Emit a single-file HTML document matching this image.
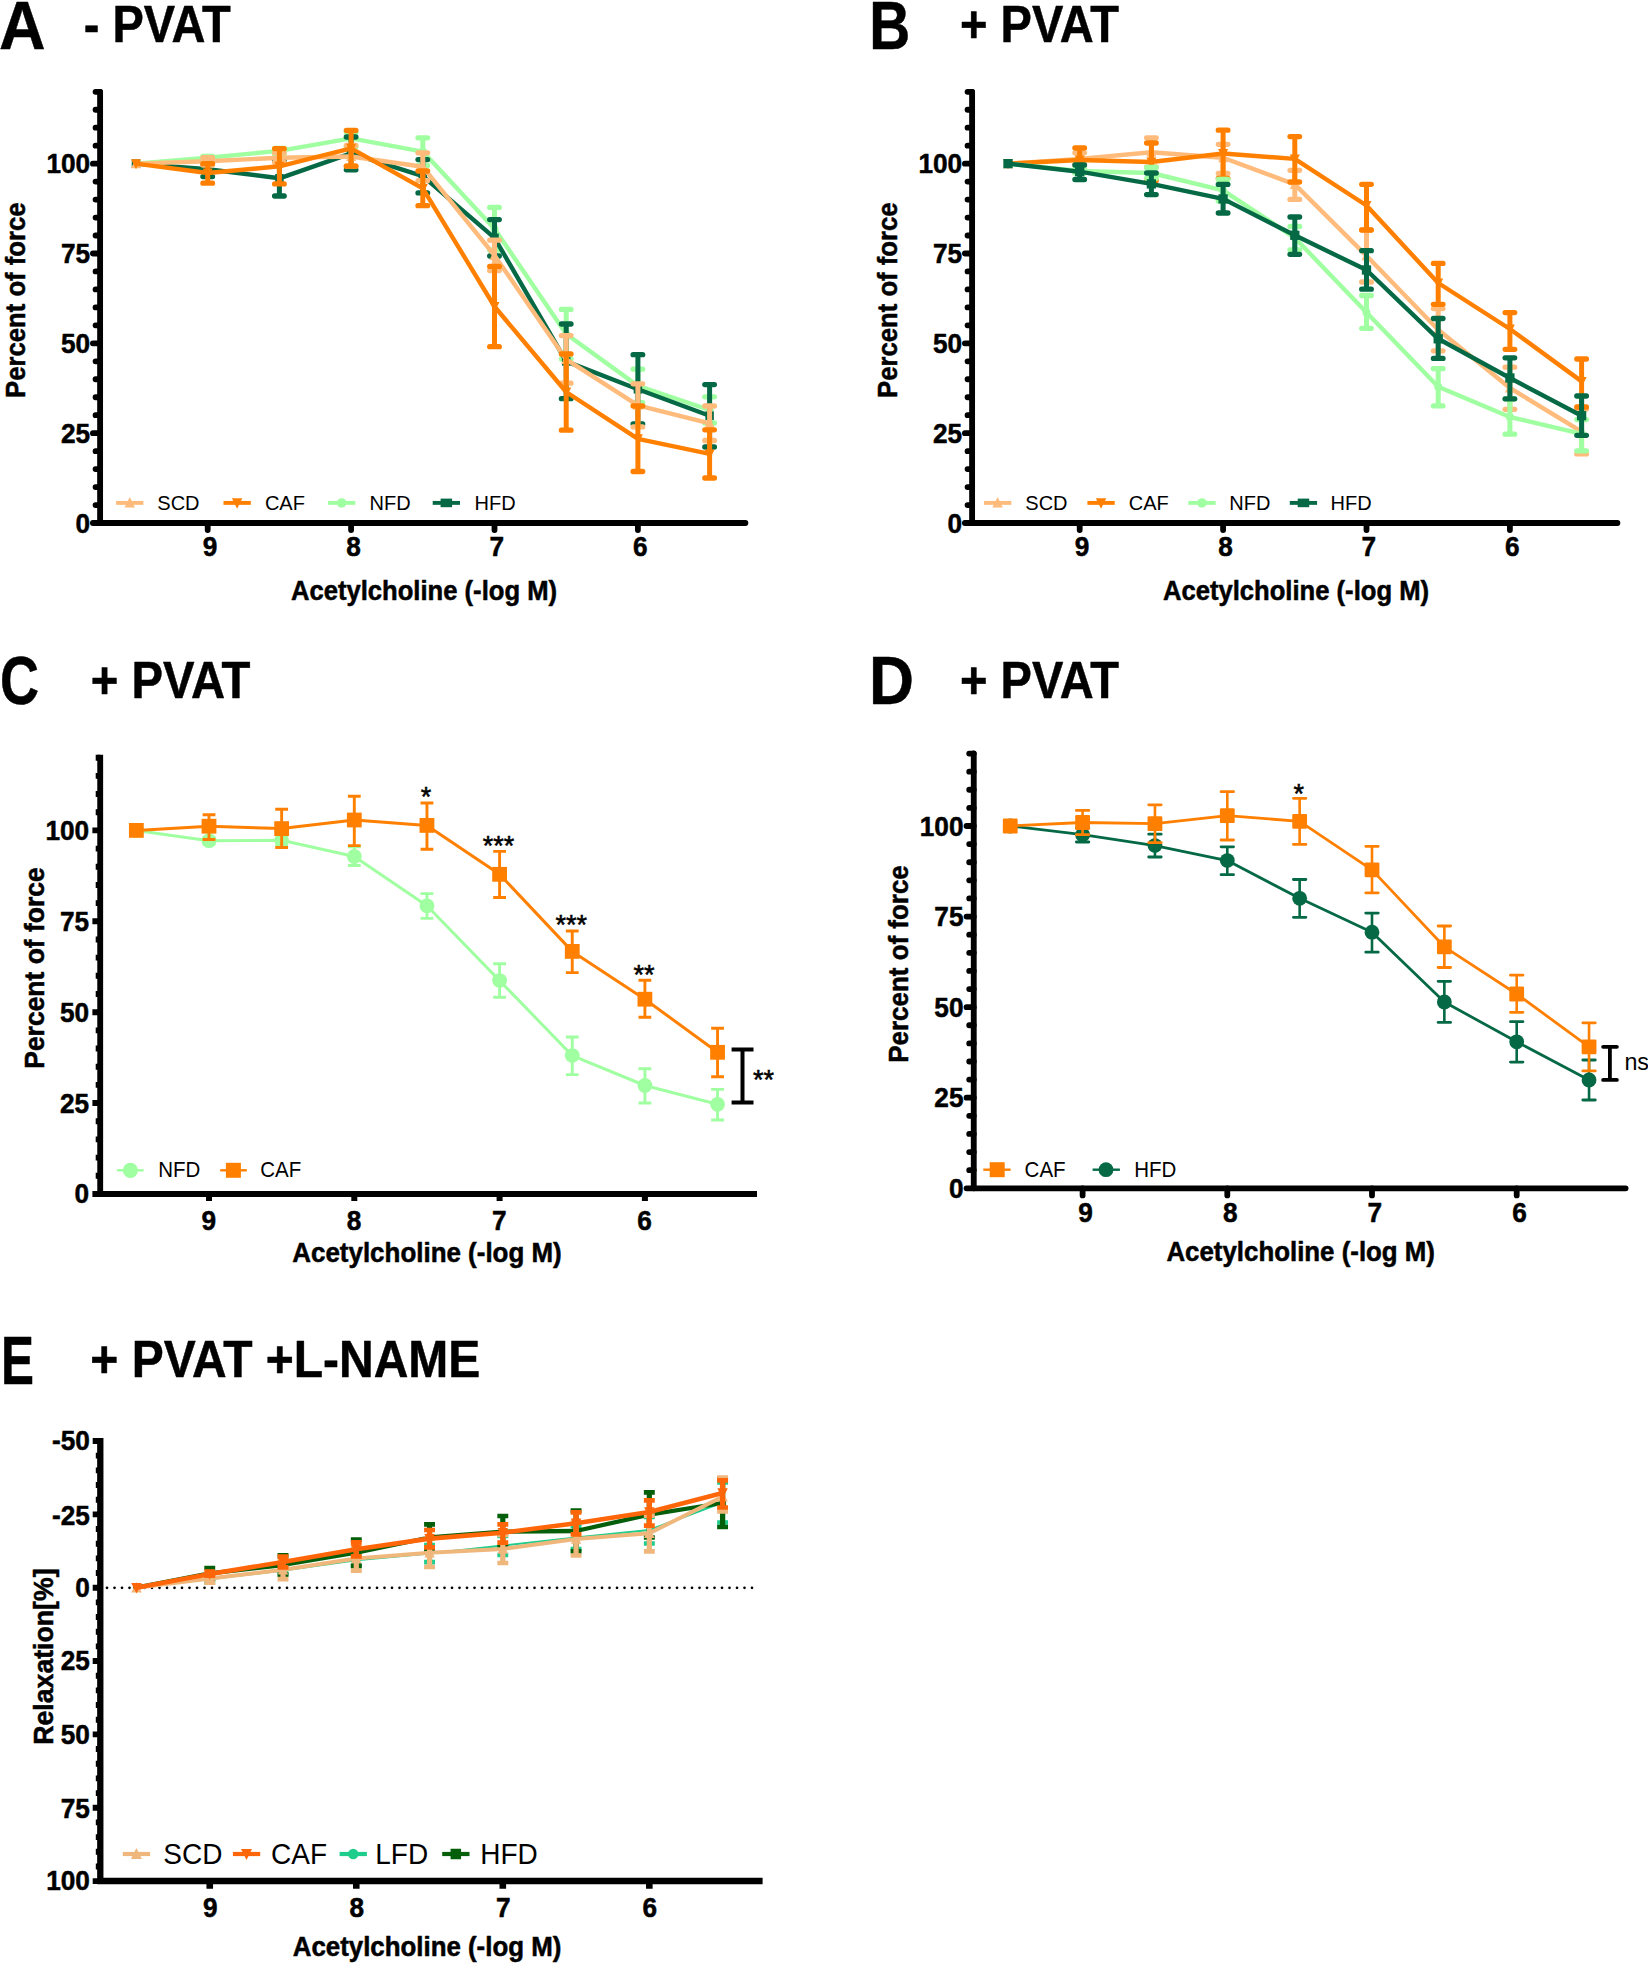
<!DOCTYPE html>
<html lang="en"><head><meta charset="utf-8"><title>Figure</title>
<style>html,body{margin:0;padding:0;background:#fff}body{width:1648px;height:1963px;overflow:hidden}svg{display:block}text{font-family:"Liberation Sans",sans-serif;fill:#000}text[font-weight=bold]{stroke:#000;stroke-width:.5px;stroke-linejoin:round}</style>
</head><body>
<svg width="1648" height="1963" viewBox="0 0 1648 1963">
<rect width="1648" height="1963" fill="#fff"/>
<g id="panelA">
<text transform="translate(-1 48.8) scale(1 1)" font-size="69.2" font-weight="bold" text-anchor="start" textLength="46.5" lengthAdjust="spacingAndGlyphs" stroke="#000" stroke-width="0.9" stroke-linejoin="round">A</text>
<text transform="translate(83.7 42.2) scale(1 1)" font-size="51.2" font-weight="bold" text-anchor="start" textLength="147" lengthAdjust="spacingAndGlyphs" stroke="#000" stroke-width="0.9" stroke-linejoin="round">- PVAT</text>
<path d="M100.1 91.9V523H745.4" fill="none" stroke="#000" stroke-width="5.85" stroke-linecap="round" stroke-linejoin="round"/>
<path d="M100.1 505.03H95.55M100.1 487.06H95.55M100.1 469.1H95.55M100.1 451.13H95.55M100.1 415.19H95.55M100.1 397.23H95.55M100.1 379.26H95.55M100.1 361.29H95.55M100.1 325.36H95.55M100.1 307.39H95.55M100.1 289.42H95.55M100.1 271.45H95.55M100.1 235.52H95.55M100.1 217.55H95.55M100.1 199.58H95.55M100.1 181.62H95.55M100.1 145.68H95.55M100.1 127.71H95.55M100.1 109.75H95.55M100.1 91.78H95.55" stroke="#000" stroke-width="5.8" stroke-linecap="round" fill="none"/>
<path d="M100.1 523H92.9M100.1 433.16H92.9M100.1 343.32H92.9M100.1 253.49H92.9M100.1 163.65H92.9M207.7 523V530.1M351.1 523V530.1M494.5 523V530.1M637.9 523V530.1" stroke="#000" stroke-width="5.8" stroke-linecap="round" fill="none"/>
<text transform="translate(90.2 532.5) scale(1 1.05)" font-size="26.2" font-weight="bold" text-anchor="end">0</text>
<text transform="translate(90.2 442.66) scale(1 1.05)" font-size="26.2" font-weight="bold" text-anchor="end">25</text>
<text transform="translate(90.2 352.82) scale(1 1.05)" font-size="26.2" font-weight="bold" text-anchor="end">50</text>
<text transform="translate(90.2 262.99) scale(1 1.05)" font-size="26.2" font-weight="bold" text-anchor="end">75</text>
<text transform="translate(90.2 173.15) scale(1 1.05)" font-size="26.2" font-weight="bold" text-anchor="end">100</text>
<text transform="translate(210.1 556) scale(1 1.05)" font-size="26.2" font-weight="bold" text-anchor="middle">9</text>
<text transform="translate(353.5 556) scale(1 1.05)" font-size="26.2" font-weight="bold" text-anchor="middle">8</text>
<text transform="translate(496.9 556) scale(1 1.05)" font-size="26.2" font-weight="bold" text-anchor="middle">7</text>
<text transform="translate(640.3 556) scale(1 1.05)" font-size="26.2" font-weight="bold" text-anchor="middle">6</text>
<text transform="translate(424 600) scale(1 1.05)" font-size="26" font-weight="bold" text-anchor="middle" textLength="266" lengthAdjust="spacingAndGlyphs">Acetylcholine (-log M)</text>
<text transform="translate(24.7 300.2) rotate(-90) scale(1 1.05)" font-size="26" font-weight="bold" text-anchor="middle" textLength="195.5" lengthAdjust="spacingAndGlyphs">Percent of force</text>
<path d="M207.7 156.3V159.1M279.4 148.3V154.5M351.1 132.2V146.7M422.8 137.8V165.4M494.5 207.4V250M566.2 309.4V359M637.9 369.2V402.6M709.6 396.8V423" fill="none" stroke="#A0FFA0" stroke-width="5"/>
<path d="M202.9 156.3H212.5M202.9 159.1H212.5M274.6 148.3H284.2M274.6 154.5H284.2M346.3 132.2H355.9M346.3 146.7H355.9M418 137.8H427.6M418 165.4H427.6M489.7 207.4H499.3M489.7 250H499.3M561.4 309.4H571M561.4 359H571M633.1 369.2H642.7M633.1 402.6H642.7M704.8 396.8H714.4M704.8 423H714.4" fill="none" stroke="#A0FFA0" stroke-width="5.3" stroke-linecap="round"/>
<polyline points="136,163.65 207.7,157.7 279.4,150.9 351.1,138.3 422.8,151.6 494.5,228.7 566.2,334 637.9,385.9 709.6,410" fill="none" stroke="#A0FFA0" stroke-width="4.4" stroke-linejoin="round" stroke-linecap="round"/>
<circle cx="136" cy="163.65" r="4" fill="#A0FFA0"/>
<circle cx="207.7" cy="157.7" r="4" fill="#A0FFA0"/>
<circle cx="279.4" cy="150.9" r="4" fill="#A0FFA0"/>
<circle cx="351.1" cy="138.3" r="4" fill="#A0FFA0"/>
<circle cx="422.8" cy="151.6" r="4" fill="#A0FFA0"/>
<circle cx="494.5" cy="228.7" r="4" fill="#A0FFA0"/>
<circle cx="566.2" cy="334" r="4" fill="#A0FFA0"/>
<circle cx="637.9" cy="385.9" r="4" fill="#A0FFA0"/>
<circle cx="709.6" cy="410" r="4" fill="#A0FFA0"/>
<path d="M207.7 163.7V176.6M279.4 160.6V196M351.1 137V169.8M422.8 159.6V192.9M494.5 219.6V256M566.2 324V398.7M637.9 354.7V424M709.6 384.6V447" fill="none" stroke="#056946" stroke-width="5"/>
<path d="M202.9 163.7H212.5M202.9 176.6H212.5M274.6 160.6H284.2M274.6 196H284.2M346.3 137H355.9M346.3 169.8H355.9M418 159.6H427.6M418 192.9H427.6M489.7 219.6H499.3M489.7 256H499.3M561.4 324H571M561.4 398.7H571M633.1 354.7H642.7M633.1 424H642.7M704.8 384.6H714.4M704.8 447H714.4" fill="none" stroke="#056946" stroke-width="5.3" stroke-linecap="round"/>
<polyline points="136,163.65 207.7,169.2 279.4,178.3 351.1,153.4 422.8,176.2 494.5,237.8 566.2,361.4 637.9,389.3 709.6,415.7" fill="none" stroke="#056946" stroke-width="4.4" stroke-linejoin="round" stroke-linecap="round"/>
<rect x="131.75" y="159.4" width="8.5" height="8.5" fill="#056946"/>
<rect x="203.45" y="164.95" width="8.5" height="8.5" fill="#056946"/>
<rect x="275.15" y="174.05" width="8.5" height="8.5" fill="#056946"/>
<rect x="346.85" y="149.15" width="8.5" height="8.5" fill="#056946"/>
<rect x="418.55" y="171.95" width="8.5" height="8.5" fill="#056946"/>
<rect x="490.25" y="233.55" width="8.5" height="8.5" fill="#056946"/>
<rect x="561.95" y="357.15" width="8.5" height="8.5" fill="#056946"/>
<rect x="633.65" y="385.05" width="8.5" height="8.5" fill="#056946"/>
<rect x="705.35" y="411.45" width="8.5" height="8.5" fill="#056946"/>
<path d="M207.7 157.7V165M279.4 152.8V162.5M351.1 145.5V166M422.8 152.8V180.7M494.5 240.2V270.5M566.2 335.6V383.2M637.9 383.8V426.9M709.6 406V440.5" fill="none" stroke="#FFBB7B" stroke-width="5"/>
<path d="M202.9 157.7H212.5M202.9 165H212.5M274.6 152.8H284.2M274.6 162.5H284.2M346.3 145.5H355.9M346.3 166H355.9M418 152.8H427.6M418 180.7H427.6M489.7 240.2H499.3M489.7 270.5H499.3M561.4 335.6H571M561.4 383.2H571M633.1 383.8H642.7M633.1 426.9H642.7M704.8 406H714.4M704.8 440.5H714.4" fill="none" stroke="#FFBB7B" stroke-width="5.3" stroke-linecap="round"/>
<polyline points="136,163.65 207.7,161.3 279.4,157.7 351.1,156.5 422.8,166.8 494.5,255.4 566.2,359.4 637.9,405.3 709.6,423.3" fill="none" stroke="#FFBB7B" stroke-width="4.4" stroke-linejoin="round" stroke-linecap="round"/>
<path d="M136 158.15L141 168.15L131 168.15Z" fill="#FFBB7B"/>
<path d="M207.7 155.8L212.7 165.8L202.7 165.8Z" fill="#FFBB7B"/>
<path d="M279.4 152.2L284.4 162.2L274.4 162.2Z" fill="#FFBB7B"/>
<path d="M351.1 151L356.1 161L346.1 161Z" fill="#FFBB7B"/>
<path d="M422.8 161.3L427.8 171.3L417.8 171.3Z" fill="#FFBB7B"/>
<path d="M494.5 249.9L499.5 259.9L489.5 259.9Z" fill="#FFBB7B"/>
<path d="M566.2 353.9L571.2 363.9L561.2 363.9Z" fill="#FFBB7B"/>
<path d="M637.9 399.8L642.9 409.8L632.9 409.8Z" fill="#FFBB7B"/>
<path d="M709.6 417.8L714.6 427.8L704.6 427.8Z" fill="#FFBB7B"/>
<path d="M207.7 163.7V183.2M279.4 148.7V183.9M351.1 130.5V166.2M422.8 171V205.7M494.5 266.4V346.7M566.2 354V430.2M637.9 406V471.5M709.6 429.8V478" fill="none" stroke="#FF8000" stroke-width="5"/>
<path d="M202.9 163.7H212.5M202.9 183.2H212.5M274.6 148.7H284.2M274.6 183.9H284.2M346.3 130.5H355.9M346.3 166.2H355.9M418 171H427.6M418 205.7H427.6M489.7 266.4H499.3M489.7 346.7H499.3M561.4 354H571M561.4 430.2H571M633.1 406H642.7M633.1 471.5H642.7M704.8 429.8H714.4M704.8 478H714.4" fill="none" stroke="#FF8000" stroke-width="5.3" stroke-linecap="round"/>
<polyline points="136,163.65 207.7,173 279.4,166.3 351.1,148.3 422.8,188.4 494.5,306.5 566.2,392 637.9,438.8 709.6,453.9" fill="none" stroke="#FF8000" stroke-width="4.4" stroke-linejoin="round" stroke-linecap="round"/>
<path d="M136 169.15L141 159.15L131 159.15Z" fill="#FF8000"/>
<path d="M207.7 178.5L212.7 168.5L202.7 168.5Z" fill="#FF8000"/>
<path d="M279.4 171.8L284.4 161.8L274.4 161.8Z" fill="#FF8000"/>
<path d="M351.1 153.8L356.1 143.8L346.1 143.8Z" fill="#FF8000"/>
<path d="M422.8 193.9L427.8 183.9L417.8 183.9Z" fill="#FF8000"/>
<path d="M494.5 312L499.5 302L489.5 302Z" fill="#FF8000"/>
<path d="M566.2 397.5L571.2 387.5L561.2 387.5Z" fill="#FF8000"/>
<path d="M637.9 444.3L642.9 434.3L632.9 434.3Z" fill="#FF8000"/>
<path d="M709.6 459.4L714.6 449.4L704.6 449.4Z" fill="#FF8000"/>
<path d="M116.1 502.9H143.4" stroke="#FFBB7B" stroke-width="3.9"/>
<path d="M129.75 497.12L135 507.62L124.5 507.62Z" fill="#FFBB7B"/>
<text transform="translate(157.3 509.7) scale(1 1.05)" font-size="20" font-weight="normal" text-anchor="start">SCD</text>
<path d="M223.5 502.9H250.8" stroke="#FF8000" stroke-width="3.9"/>
<path d="M237.15 508.67L242.4 498.17L231.9 498.17Z" fill="#FF8000"/>
<text transform="translate(264.9 509.7) scale(1 1.05)" font-size="20" font-weight="normal" text-anchor="start">CAF</text>
<path d="M328 502.9H355.3" stroke="#A0FFA0" stroke-width="3.9"/>
<circle cx="341.65" cy="502.9" r="4.75" fill="#A0FFA0"/>
<text transform="translate(369.6 509.7) scale(1 1.05)" font-size="20" font-weight="normal" text-anchor="start">NFD</text>
<path d="M432.7 502.9H460" stroke="#056946" stroke-width="3.9"/>
<rect x="440.6" y="498.6" width="11.5" height="8.6" fill="#056946"/>
<text transform="translate(474.5 509.7) scale(1 1.05)" font-size="20" font-weight="normal" text-anchor="start">HFD</text>
</g>
<g id="panelB">
<text transform="translate(869.3 48.8) scale(1 1)" font-size="69.2" font-weight="bold" text-anchor="start" textLength="41" lengthAdjust="spacingAndGlyphs" stroke="#000" stroke-width="0.9" stroke-linejoin="round">B</text>
<text transform="translate(960 42.2) scale(1 1)" font-size="51.2" font-weight="bold" text-anchor="start" textLength="159" lengthAdjust="spacingAndGlyphs" stroke="#000" stroke-width="0.9" stroke-linejoin="round">+ PVAT</text>
<path d="M972.1 91.9V523H1617.4" fill="none" stroke="#000" stroke-width="5.85" stroke-linecap="round" stroke-linejoin="round"/>
<path d="M972.1 505.03H967.55M972.1 487.06H967.55M972.1 469.1H967.55M972.1 451.13H967.55M972.1 415.19H967.55M972.1 397.23H967.55M972.1 379.26H967.55M972.1 361.29H967.55M972.1 325.36H967.55M972.1 307.39H967.55M972.1 289.42H967.55M972.1 271.45H967.55M972.1 235.52H967.55M972.1 217.55H967.55M972.1 199.58H967.55M972.1 181.62H967.55M972.1 145.68H967.55M972.1 127.71H967.55M972.1 109.75H967.55M972.1 91.78H967.55" stroke="#000" stroke-width="5.8" stroke-linecap="round" fill="none"/>
<path d="M972.1 523H964.9M972.1 433.16H964.9M972.1 343.32H964.9M972.1 253.49H964.9M972.1 163.65H964.9M1079.7 523V530.1M1223.1 523V530.1M1366.5 523V530.1M1509.9 523V530.1" stroke="#000" stroke-width="5.8" stroke-linecap="round" fill="none"/>
<text transform="translate(962.2 532.5) scale(1 1.05)" font-size="26.2" font-weight="bold" text-anchor="end">0</text>
<text transform="translate(962.2 442.66) scale(1 1.05)" font-size="26.2" font-weight="bold" text-anchor="end">25</text>
<text transform="translate(962.2 352.82) scale(1 1.05)" font-size="26.2" font-weight="bold" text-anchor="end">50</text>
<text transform="translate(962.2 262.99) scale(1 1.05)" font-size="26.2" font-weight="bold" text-anchor="end">75</text>
<text transform="translate(962.2 173.15) scale(1 1.05)" font-size="26.2" font-weight="bold" text-anchor="end">100</text>
<text transform="translate(1082.1 556) scale(1 1.05)" font-size="26.2" font-weight="bold" text-anchor="middle">9</text>
<text transform="translate(1225.5 556) scale(1 1.05)" font-size="26.2" font-weight="bold" text-anchor="middle">8</text>
<text transform="translate(1368.9 556) scale(1 1.05)" font-size="26.2" font-weight="bold" text-anchor="middle">7</text>
<text transform="translate(1512.3 556) scale(1 1.05)" font-size="26.2" font-weight="bold" text-anchor="middle">6</text>
<text transform="translate(1296 600) scale(1 1.05)" font-size="26" font-weight="bold" text-anchor="middle" textLength="266" lengthAdjust="spacingAndGlyphs">Acetylcholine (-log M)</text>
<text transform="translate(896.7 300.2) rotate(-90) scale(1 1.05)" font-size="26" font-weight="bold" text-anchor="middle" textLength="195.5" lengthAdjust="spacingAndGlyphs">Percent of force</text>
<path d="M1079.7 152.8V165M1151.4 137.8V167M1223.1 144.3V173.4M1294.8 170.3V199.4M1366.5 230V282M1438.2 308.6V350.8M1509.9 367.2V409.3M1581.6 409V453.9" fill="none" stroke="#FFBB7B" stroke-width="5"/>
<path d="M1074.9 152.8H1084.5M1074.9 165H1084.5M1146.6 137.8H1156.2M1146.6 167H1156.2M1218.3 144.3H1227.9M1218.3 173.4H1227.9M1290 170.3H1299.6M1290 199.4H1299.6M1361.7 230H1371.3M1361.7 282H1371.3M1433.4 308.6H1443M1433.4 350.8H1443M1505.1 367.2H1514.7M1505.1 409.3H1514.7M1576.8 409H1586.4M1576.8 453.9H1586.4" fill="none" stroke="#FFBB7B" stroke-width="5.3" stroke-linecap="round"/>
<polyline points="1008,163.65 1079.7,158.9 1151.4,152.3 1223.1,157.7 1294.8,184.4 1366.5,255.8 1438.2,329.7 1509.9,388 1581.6,431.6" fill="none" stroke="#FFBB7B" stroke-width="4.4" stroke-linejoin="round" stroke-linecap="round"/>
<path d="M1008 158.15L1013 168.15L1003 168.15Z" fill="#FFBB7B"/>
<path d="M1079.7 153.4L1084.7 163.4L1074.7 163.4Z" fill="#FFBB7B"/>
<path d="M1151.4 146.8L1156.4 156.8L1146.4 156.8Z" fill="#FFBB7B"/>
<path d="M1223.1 152.2L1228.1 162.2L1218.1 162.2Z" fill="#FFBB7B"/>
<path d="M1294.8 178.9L1299.8 188.9L1289.8 188.9Z" fill="#FFBB7B"/>
<path d="M1366.5 250.3L1371.5 260.3L1361.5 260.3Z" fill="#FFBB7B"/>
<path d="M1438.2 324.2L1443.2 334.2L1433.2 334.2Z" fill="#FFBB7B"/>
<path d="M1509.9 382.5L1514.9 392.5L1504.9 392.5Z" fill="#FFBB7B"/>
<path d="M1581.6 426.1L1586.6 436.1L1576.6 436.1Z" fill="#FFBB7B"/>
<path d="M1079.7 148V172M1151.4 143V180.7M1223.1 130.2V178.3M1294.8 136.6V182M1366.5 184.3V230M1438.2 263.4V304.3M1509.9 312.6V349.3M1581.6 359V407" fill="none" stroke="#FF8000" stroke-width="5"/>
<path d="M1074.9 148H1084.5M1074.9 172H1084.5M1146.6 143H1156.2M1146.6 180.7H1156.2M1218.3 130.2H1227.9M1218.3 178.3H1227.9M1290 136.6H1299.6M1290 182H1299.6M1361.7 184.3H1371.3M1361.7 230H1371.3M1433.4 263.4H1443M1433.4 304.3H1443M1505.1 312.6H1514.7M1505.1 349.3H1514.7M1576.8 359H1586.4M1576.8 407H1586.4" fill="none" stroke="#FF8000" stroke-width="5.3" stroke-linecap="round"/>
<polyline points="1008,163.65 1079.7,160 1151.4,162 1223.1,153.5 1294.8,158.9 1366.5,205.5 1438.2,283 1509.9,329 1581.6,381.4" fill="none" stroke="#FF8000" stroke-width="4.4" stroke-linejoin="round" stroke-linecap="round"/>
<path d="M1008 169.15L1013 159.15L1003 159.15Z" fill="#FF8000"/>
<path d="M1079.7 165.5L1084.7 155.5L1074.7 155.5Z" fill="#FF8000"/>
<path d="M1151.4 167.5L1156.4 157.5L1146.4 157.5Z" fill="#FF8000"/>
<path d="M1223.1 159L1228.1 149L1218.1 149Z" fill="#FF8000"/>
<path d="M1294.8 164.4L1299.8 154.4L1289.8 154.4Z" fill="#FF8000"/>
<path d="M1366.5 211L1371.5 201L1361.5 201Z" fill="#FF8000"/>
<path d="M1438.2 288.5L1443.2 278.5L1433.2 278.5Z" fill="#FF8000"/>
<path d="M1509.9 334.5L1514.9 324.5L1504.9 324.5Z" fill="#FF8000"/>
<path d="M1581.6 386.9L1586.6 376.9L1576.6 376.9Z" fill="#FF8000"/>
<path d="M1079.7 169V173M1151.4 167.4V178.3M1223.1 179.5V201M1294.8 226.4V250M1366.5 295.5V328.3M1438.2 368.7V405.8M1509.9 399V434.2M1581.6 419.6V450.8" fill="none" stroke="#A0FFA0" stroke-width="5"/>
<path d="M1074.9 169H1084.5M1074.9 173H1084.5M1146.6 167.4H1156.2M1146.6 178.3H1156.2M1218.3 179.5H1227.9M1218.3 201H1227.9M1290 226.4H1299.6M1290 250H1299.6M1361.7 295.5H1371.3M1361.7 328.3H1371.3M1433.4 368.7H1443M1433.4 405.8H1443M1505.1 399H1514.7M1505.1 434.2H1514.7M1576.8 419.6H1586.4M1576.8 450.8H1586.4" fill="none" stroke="#A0FFA0" stroke-width="5.3" stroke-linecap="round"/>
<polyline points="1008,163.65 1079.7,171 1151.4,173 1223.1,190.4 1294.8,237.8 1366.5,312.6 1438.2,386.8 1509.9,417 1581.6,433.8" fill="none" stroke="#A0FFA0" stroke-width="4.4" stroke-linejoin="round" stroke-linecap="round"/>
<circle cx="1008" cy="163.65" r="4" fill="#A0FFA0"/>
<circle cx="1079.7" cy="171" r="4" fill="#A0FFA0"/>
<circle cx="1151.4" cy="173" r="4" fill="#A0FFA0"/>
<circle cx="1223.1" cy="190.4" r="4" fill="#A0FFA0"/>
<circle cx="1294.8" cy="237.8" r="4" fill="#A0FFA0"/>
<circle cx="1366.5" cy="312.6" r="4" fill="#A0FFA0"/>
<circle cx="1438.2" cy="386.8" r="4" fill="#A0FFA0"/>
<circle cx="1509.9" cy="417" r="4" fill="#A0FFA0"/>
<circle cx="1581.6" cy="433.8" r="4" fill="#A0FFA0"/>
<path d="M1079.7 165V179.5M1151.4 173V194.6M1223.1 184.4V213M1294.8 217V254.3M1366.5 250.7V289.2M1438.2 318.5V358.4M1509.9 357.8V398.8M1581.6 396V435.3" fill="none" stroke="#056946" stroke-width="5"/>
<path d="M1074.9 165H1084.5M1074.9 179.5H1084.5M1146.6 173H1156.2M1146.6 194.6H1156.2M1218.3 184.4H1227.9M1218.3 213H1227.9M1290 217H1299.6M1290 254.3H1299.6M1361.7 250.7H1371.3M1361.7 289.2H1371.3M1433.4 318.5H1443M1433.4 358.4H1443M1505.1 357.8H1514.7M1505.1 398.8H1514.7M1576.8 396H1586.4M1576.8 435.3H1586.4" fill="none" stroke="#056946" stroke-width="5.3" stroke-linecap="round"/>
<polyline points="1008,163.65 1079.7,171.7 1151.4,183.9 1223.1,198.9 1294.8,235.3 1366.5,270 1438.2,338.8 1509.9,378 1581.6,415.7" fill="none" stroke="#056946" stroke-width="4.4" stroke-linejoin="round" stroke-linecap="round"/>
<rect x="1003.35" y="159" width="9.3" height="9.3" fill="#056946"/>
<rect x="1075.05" y="167.05" width="9.3" height="9.3" fill="#056946"/>
<rect x="1146.75" y="179.25" width="9.3" height="9.3" fill="#056946"/>
<rect x="1218.45" y="194.25" width="9.3" height="9.3" fill="#056946"/>
<rect x="1290.15" y="230.65" width="9.3" height="9.3" fill="#056946"/>
<rect x="1361.85" y="265.35" width="9.3" height="9.3" fill="#056946"/>
<rect x="1433.55" y="334.15" width="9.3" height="9.3" fill="#056946"/>
<rect x="1505.25" y="373.35" width="9.3" height="9.3" fill="#056946"/>
<rect x="1576.95" y="411.05" width="9.3" height="9.3" fill="#056946"/>
<path d="M984 502.9H1011.3" stroke="#FFBB7B" stroke-width="3.9"/>
<path d="M997.65 497.12L1002.9 507.62L992.4 507.62Z" fill="#FFBB7B"/>
<text transform="translate(1025.3 509.7) scale(1 1.05)" font-size="20" font-weight="normal" text-anchor="start">SCD</text>
<path d="M1087.4 502.9H1114.7" stroke="#FF8000" stroke-width="3.9"/>
<path d="M1101.05 508.67L1106.3 498.17L1095.8 498.17Z" fill="#FF8000"/>
<text transform="translate(1128.7 509.7) scale(1 1.05)" font-size="20" font-weight="normal" text-anchor="start">CAF</text>
<path d="M1188.3 502.9H1215.6" stroke="#A0FFA0" stroke-width="3.9"/>
<circle cx="1201.95" cy="502.9" r="4.75" fill="#A0FFA0"/>
<text transform="translate(1229.3 509.7) scale(1 1.05)" font-size="20" font-weight="normal" text-anchor="start">NFD</text>
<path d="M1289.8 502.9H1317.1" stroke="#056946" stroke-width="3.9"/>
<rect x="1297.7" y="498.6" width="11.5" height="8.6" fill="#056946"/>
<text transform="translate(1330.5 509.7) scale(1 1.05)" font-size="20" font-weight="normal" text-anchor="start">HFD</text>
</g>
<g id="panelC">
<text transform="translate(0 704) scale(1 1)" font-size="69.2" font-weight="bold" text-anchor="start" textLength="39" lengthAdjust="spacingAndGlyphs" stroke="#000" stroke-width="0.9" stroke-linejoin="round">C</text>
<text transform="translate(90.7 697.9) scale(1 1)" font-size="51.2" font-weight="bold" text-anchor="start" textLength="159.7" lengthAdjust="spacingAndGlyphs" stroke="#000" stroke-width="0.9" stroke-linejoin="round">+ PVAT</text>
<path d="M100.2 754.7V1193.95H757" fill="none" stroke="#000" stroke-width="5.85" stroke-linejoin="miter"/>
<path d="M100.2 1175.77H95.7M100.2 1157.6H95.7M100.2 1139.42H95.7M100.2 1121.24H95.7M100.2 1084.88H95.7M100.2 1066.71H95.7M100.2 1048.53H95.7M100.2 1030.35H95.7M100.2 994H95.7M100.2 975.82H95.7M100.2 957.64H95.7M100.2 939.47H95.7M100.2 903.11H95.7M100.2 884.93H95.7M100.2 866.76H95.7M100.2 848.58H95.7M100.2 812.22H95.7M100.2 794.05H95.7M100.2 775.87H95.7M100.2 757.69H95.7" stroke="#000" stroke-width="5.9" fill="none"/>
<path d="M100.2 1193.95H92.4M100.2 1103.06H92.4M100.2 1012.18H92.4M100.2 921.29H92.4M100.2 830.4H92.4" stroke="#000" stroke-width="5.9" fill="none"/>
<path d="M209 1193.95V1200.9M354.3 1193.95V1200.9M499.6 1193.95V1200.9M644.9 1193.95V1200.9" stroke="#000" stroke-width="6" fill="none"/>
<text transform="translate(89.2 1203.45) scale(1 1.05)" font-size="26.2" font-weight="bold" text-anchor="end">0</text>
<text transform="translate(89.2 1112.56) scale(1 1.05)" font-size="26.2" font-weight="bold" text-anchor="end">25</text>
<text transform="translate(89.2 1021.68) scale(1 1.05)" font-size="26.2" font-weight="bold" text-anchor="end">50</text>
<text transform="translate(89.2 930.79) scale(1 1.05)" font-size="26.2" font-weight="bold" text-anchor="end">75</text>
<text transform="translate(89.2 839.9) scale(1 1.05)" font-size="26.2" font-weight="bold" text-anchor="end">100</text>
<text transform="translate(208.7 1230) scale(1 1.05)" font-size="26.2" font-weight="bold" text-anchor="middle">9</text>
<text transform="translate(354 1230) scale(1 1.05)" font-size="26.2" font-weight="bold" text-anchor="middle">8</text>
<text transform="translate(499.3 1230) scale(1 1.05)" font-size="26.2" font-weight="bold" text-anchor="middle">7</text>
<text transform="translate(644.6 1230) scale(1 1.05)" font-size="26.2" font-weight="bold" text-anchor="middle">6</text>
<text transform="translate(427 1261.8) scale(1 1.05)" font-size="26" font-weight="bold" text-anchor="middle" textLength="269.5" lengthAdjust="spacingAndGlyphs">Acetylcholine (-log M)</text>
<text transform="translate(44 968) rotate(-90) scale(1 1.05)" font-size="26" font-weight="bold" text-anchor="middle" textLength="201.5" lengthAdjust="spacingAndGlyphs">Percent of force</text>
<path d="M209 837.5V844M281.65 835V845.6M354.3 846.8V865.5M426.95 893.6V918.4M499.6 963.8V997.2M572.25 1037V1074.6M644.9 1068.7V1103M717.55 1089.4V1120" fill="none" stroke="#A0FFA0" stroke-width="2.9"/>
<path d="M202.6 837.5H215.4M202.6 844H215.4M275.25 835H288.05M275.25 845.6H288.05M347.9 846.8H360.7M347.9 865.5H360.7M420.55 893.6H433.35M420.55 918.4H433.35M493.2 963.8H506M493.2 997.2H506M565.85 1037H578.65M565.85 1074.6H578.65M638.5 1068.7H651.3M638.5 1103H651.3M711.15 1089.4H723.95M711.15 1120H723.95" fill="none" stroke="#A0FFA0" stroke-width="2.9" stroke-linecap="butt"/>
<polyline points="136.35,830.4 209,840.7 281.65,840.2 354.3,856.5 426.95,905.8 499.6,980.6 572.25,1055.6 644.9,1085.5 717.55,1104.3" fill="none" stroke="#A0FFA0" stroke-width="3" stroke-linejoin="round" stroke-linecap="round"/>
<circle cx="136.35" cy="830.4" r="7.4" fill="#A0FFA0"/>
<circle cx="209" cy="840.7" r="7.4" fill="#A0FFA0"/>
<circle cx="281.65" cy="840.2" r="7.4" fill="#A0FFA0"/>
<circle cx="354.3" cy="856.5" r="7.4" fill="#A0FFA0"/>
<circle cx="426.95" cy="905.8" r="7.4" fill="#A0FFA0"/>
<circle cx="499.6" cy="980.6" r="7.4" fill="#A0FFA0"/>
<circle cx="572.25" cy="1055.6" r="7.4" fill="#A0FFA0"/>
<circle cx="644.9" cy="1085.5" r="7.4" fill="#A0FFA0"/>
<circle cx="717.55" cy="1104.3" r="7.4" fill="#A0FFA0"/>
<path d="M209 814.8V839.5M281.65 809.2V847.5M354.3 796.3V845.6M426.95 803V849.2M499.6 851.4V897.5M572.25 931V972.6M644.9 980.2V1017.3M717.55 1028.3V1076.8" fill="none" stroke="#FF8000" stroke-width="2.9"/>
<path d="M202.6 814.8H215.4M202.6 839.5H215.4M275.25 809.2H288.05M275.25 847.5H288.05M347.9 796.3H360.7M347.9 845.6H360.7M420.55 803H433.35M420.55 849.2H433.35M493.2 851.4H506M493.2 897.5H506M565.85 931H578.65M565.85 972.6H578.65M638.5 980.2H651.3M638.5 1017.3H651.3M711.15 1028.3H723.95M711.15 1076.8H723.95" fill="none" stroke="#FF8000" stroke-width="2.9" stroke-linecap="butt"/>
<polyline points="136.35,830.4 209,826.2 281.65,828.6 354.3,820 426.95,825.4 499.6,874.3 572.25,951.4 644.9,999.2 717.55,1052.3" fill="none" stroke="#FF8000" stroke-width="3" stroke-linejoin="round" stroke-linecap="round"/>
<rect x="128.95" y="823" width="14.8" height="14.8" fill="#FF8000"/>
<rect x="201.6" y="818.8" width="14.8" height="14.8" fill="#FF8000"/>
<rect x="274.25" y="821.2" width="14.8" height="14.8" fill="#FF8000"/>
<rect x="346.9" y="812.6" width="14.8" height="14.8" fill="#FF8000"/>
<rect x="419.55" y="818" width="14.8" height="14.8" fill="#FF8000"/>
<rect x="492.2" y="866.9" width="14.8" height="14.8" fill="#FF8000"/>
<rect x="564.85" y="944" width="14.8" height="14.8" fill="#FF8000"/>
<rect x="637.5" y="991.8" width="14.8" height="14.8" fill="#FF8000"/>
<rect x="710.15" y="1044.9" width="14.8" height="14.8" fill="#FF8000"/>
<text transform="translate(425.95 805.8) scale(1 1)" font-size="27" font-weight="normal" text-anchor="middle" stroke="#000" stroke-width="0.5">*</text>
<text transform="translate(498.6 855) scale(1 1)" font-size="27" font-weight="normal" text-anchor="middle" stroke="#000" stroke-width="0.5">***</text>
<text transform="translate(571.25 934.3) scale(1 1)" font-size="27" font-weight="normal" text-anchor="middle" stroke="#000" stroke-width="0.5">***</text>
<text transform="translate(643.9 984.3) scale(1 1)" font-size="27" font-weight="normal" text-anchor="middle" stroke="#000" stroke-width="0.5">**</text>
<path d="M742.5 1049.5V1102.5M731.6 1049.5H753.5M731.6 1102.5H753.5" stroke="#000" stroke-width="4" fill="none"/>
<text transform="translate(753 1089) scale(1 1)" font-size="27" font-weight="normal" text-anchor="start" stroke="#000" stroke-width="0.5">**</text>
<path d="M117 1170.3H143.7" stroke="#A0FFA0" stroke-width="2.4"/>
<circle cx="130.4" cy="1170.3" r="7.6" fill="#A0FFA0"/>
<text transform="translate(158.3 1177.2) scale(1 1.05)" font-size="20.5" font-weight="normal" text-anchor="start">NFD</text>
<path d="M220.2 1170.3H246.8" stroke="#FF8000" stroke-width="2.4"/>
<rect x="225.9" y="1162.8" width="15" height="15" fill="#FF8000"/>
<text transform="translate(260.3 1177.2) scale(1 1.05)" font-size="20.5" font-weight="normal" text-anchor="start">CAF</text>
</g>
<g id="panelD">
<text transform="translate(869 703.7) scale(1 1)" font-size="69.2" font-weight="bold" text-anchor="start" textLength="45" lengthAdjust="spacingAndGlyphs" stroke="#000" stroke-width="0.9" stroke-linejoin="round">D</text>
<text transform="translate(960 697.9) scale(1 1)" font-size="51.2" font-weight="bold" text-anchor="start" textLength="159" lengthAdjust="spacingAndGlyphs" stroke="#000" stroke-width="0.9" stroke-linejoin="round">+ PVAT</text>
<path d="M973.75 753.5V1188.3H1625.6" fill="none" stroke="#000" stroke-width="5.85" stroke-linecap="round" stroke-linejoin="round"/>
<path d="M973.75 1170.18H969.2M973.75 1152.07H969.2M973.75 1133.95H969.2M973.75 1115.84H969.2M973.75 1079.61H969.2M973.75 1061.49H969.2M973.75 1043.38H969.2M973.75 1025.26H969.2M973.75 989.03H969.2M973.75 970.92H969.2M973.75 952.8H969.2M973.75 934.69H969.2M973.75 898.46H969.2M973.75 880.34H969.2M973.75 862.23H969.2M973.75 844.12H969.2M973.75 807.88H969.2M973.75 789.77H969.2M973.75 771.65H969.2M973.75 753.54H969.2" stroke="#000" stroke-width="5.8" stroke-linecap="round" fill="none"/>
<path d="M973.75 1188.3H966.55M973.75 1097.72H966.55M973.75 1007.15H966.55M973.75 916.57H966.55M973.75 826H966.55M1082.6 1188.3V1195.4M1227.3 1188.3V1195.4M1372 1188.3V1195.4M1516.7 1188.3V1195.4" stroke="#000" stroke-width="5.8" stroke-linecap="round" fill="none"/>
<text transform="translate(963.5 1197.8) scale(1 1.05)" font-size="26.2" font-weight="bold" text-anchor="end">0</text>
<text transform="translate(963.5 1107.22) scale(1 1.05)" font-size="26.2" font-weight="bold" text-anchor="end">25</text>
<text transform="translate(963.5 1016.65) scale(1 1.05)" font-size="26.2" font-weight="bold" text-anchor="end">50</text>
<text transform="translate(963.5 926.07) scale(1 1.05)" font-size="26.2" font-weight="bold" text-anchor="end">75</text>
<text transform="translate(963.5 835.5) scale(1 1.05)" font-size="26.2" font-weight="bold" text-anchor="end">100</text>
<text transform="translate(1085.5 1221.7) scale(1 1.05)" font-size="26.2" font-weight="bold" text-anchor="middle">9</text>
<text transform="translate(1230.2 1221.7) scale(1 1.05)" font-size="26.2" font-weight="bold" text-anchor="middle">8</text>
<text transform="translate(1374.9 1221.7) scale(1 1.05)" font-size="26.2" font-weight="bold" text-anchor="middle">7</text>
<text transform="translate(1519.6 1221.7) scale(1 1.05)" font-size="26.2" font-weight="bold" text-anchor="middle">6</text>
<text transform="translate(1300.7 1261) scale(1 1.05)" font-size="26" font-weight="bold" text-anchor="middle" textLength="268.5" lengthAdjust="spacingAndGlyphs">Acetylcholine (-log M)</text>
<text transform="translate(908.2 964) rotate(-90) scale(1 1.05)" font-size="26" font-weight="bold" text-anchor="middle" textLength="197.5" lengthAdjust="spacingAndGlyphs">Percent of force</text>
<path d="M1082.6 828V842M1154.95 834.2V857M1227.3 846.8V874.7M1299.65 879.5V917.3M1372 913.1V952.2M1444.35 981.3V1022.4M1516.7 1021.7V1062.1M1589.05 1060V1100" fill="none" stroke="#056946" stroke-width="2.6"/>
<path d="M1076.35 828H1088.85M1076.35 842H1088.85M1148.7 834.2H1161.2M1148.7 857H1161.2M1221.05 846.8H1233.55M1221.05 874.7H1233.55M1293.4 879.5H1305.9M1293.4 917.3H1305.9M1365.75 913.1H1378.25M1365.75 952.2H1378.25M1438.1 981.3H1450.6M1438.1 1022.4H1450.6M1510.45 1021.7H1522.95M1510.45 1062.1H1522.95M1582.8 1060H1595.3M1582.8 1100H1595.3" fill="none" stroke="#056946" stroke-width="2.8" stroke-linecap="round"/>
<polyline points="1010.25,826 1082.6,834.7 1154.95,845.6 1227.3,860.6 1299.65,898.3 1372,932.2 1444.35,1002 1516.7,1041.8 1589.05,1080" fill="none" stroke="#056946" stroke-width="2.8" stroke-linejoin="round" stroke-linecap="round"/>
<circle cx="1010.25" cy="826" r="7.4" fill="#056946"/>
<circle cx="1082.6" cy="834.7" r="7.4" fill="#056946"/>
<circle cx="1154.95" cy="845.6" r="7.4" fill="#056946"/>
<circle cx="1227.3" cy="860.6" r="7.4" fill="#056946"/>
<circle cx="1299.65" cy="898.3" r="7.4" fill="#056946"/>
<circle cx="1372" cy="932.2" r="7.4" fill="#056946"/>
<circle cx="1444.35" cy="1002" r="7.4" fill="#056946"/>
<circle cx="1516.7" cy="1041.8" r="7.4" fill="#056946"/>
<circle cx="1589.05" cy="1080" r="7.4" fill="#056946"/>
<path d="M1082.6 810.4V834.7M1154.95 804.8V842.7M1227.3 791.7V840M1299.65 798.3V844.4M1372 846.3V892.8M1444.35 926V967.5M1516.7 975.2V1012.3M1589.05 1022.8V1070.9" fill="none" stroke="#FF8000" stroke-width="2.6"/>
<path d="M1076.35 810.4H1088.85M1076.35 834.7H1088.85M1148.7 804.8H1161.2M1148.7 842.7H1161.2M1221.05 791.7H1233.55M1221.05 840H1233.55M1293.4 798.3H1305.9M1293.4 844.4H1305.9M1365.75 846.3H1378.25M1365.75 892.8H1378.25M1438.1 926H1450.6M1438.1 967.5H1450.6M1510.45 975.2H1522.95M1510.45 1012.3H1522.95M1582.8 1022.8H1595.3M1582.8 1070.9H1595.3" fill="none" stroke="#FF8000" stroke-width="2.8" stroke-linecap="round"/>
<polyline points="1010.25,826 1082.6,822.5 1154.95,823.7 1227.3,815.7 1299.65,821.3 1372,869.9 1444.35,946.8 1516.7,994 1589.05,1046.8" fill="none" stroke="#FF8000" stroke-width="2.8" stroke-linejoin="round" stroke-linecap="round"/>
<rect x="1002.85" y="818.6" width="14.8" height="14.8" rx="1.2" fill="#FF8000"/>
<rect x="1075.2" y="815.1" width="14.8" height="14.8" rx="1.2" fill="#FF8000"/>
<rect x="1147.55" y="816.3" width="14.8" height="14.8" rx="1.2" fill="#FF8000"/>
<rect x="1219.9" y="808.3" width="14.8" height="14.8" rx="1.2" fill="#FF8000"/>
<rect x="1292.25" y="813.9" width="14.8" height="14.8" rx="1.2" fill="#FF8000"/>
<rect x="1364.6" y="862.5" width="14.8" height="14.8" rx="1.2" fill="#FF8000"/>
<rect x="1436.95" y="939.4" width="14.8" height="14.8" rx="1.2" fill="#FF8000"/>
<rect x="1509.3" y="986.6" width="14.8" height="14.8" rx="1.2" fill="#FF8000"/>
<rect x="1581.65" y="1039.4" width="14.8" height="14.8" rx="1.2" fill="#FF8000"/>
<text transform="translate(1298.65 802.8) scale(1 1)" font-size="27" font-weight="normal" text-anchor="middle" stroke="#000" stroke-width="0.5">*</text>
<path d="M1609.9 1046.8V1079.9M1603.1 1046.8H1616.9M1603.1 1079.9H1616.9" stroke="#000" stroke-width="3.8" stroke-linecap="round" fill="none"/>
<text transform="translate(1624.4 1070.3) scale(1 1)" font-size="23.3" font-weight="normal" text-anchor="start">ns</text>
<path d="M983.3 1169.7H1010.6" stroke="#FF8000" stroke-width="2.4"/>
<rect x="989.7" y="1162.2" width="15" height="15" fill="#FF8000"/>
<text transform="translate(1024.6 1176.5) scale(1 1.05)" font-size="20.5" font-weight="normal" text-anchor="start">CAF</text>
<path d="M1092.6 1169.7H1119.9" stroke="#056946" stroke-width="2.4"/>
<circle cx="1106" cy="1169.7" r="7.4" fill="#056946"/>
<text transform="translate(1134.2 1176.5) scale(1 1.05)" font-size="20.5" font-weight="normal" text-anchor="start">HFD</text>
</g>
<g id="panelE">
<text transform="translate(1 1383.7) scale(1 1)" font-size="69.2" font-weight="bold" text-anchor="start" textLength="33" lengthAdjust="spacingAndGlyphs" stroke="#000" stroke-width="0.9" stroke-linejoin="round">E</text>
<text transform="translate(90.3 1377.4) scale(1 1)" font-size="51.2" font-weight="bold" text-anchor="start" textLength="390" lengthAdjust="spacingAndGlyphs" stroke="#000" stroke-width="0.9" stroke-linejoin="round">+ PVAT +L-NAME</text>
<path d="M100.3 1437.9V1881H762.6" fill="none" stroke="#000" stroke-width="6.3" stroke-linejoin="miter"/>
<path d="M100.3 1455.67H95.8M100.3 1470.34H95.8M100.3 1485.01H95.8M100.3 1499.68H95.8M100.3 1529.02H95.8M100.3 1543.69H95.8M100.3 1558.36H95.8M100.3 1573.03H95.8M100.3 1602.37H95.8M100.3 1617.04H95.8M100.3 1631.71H95.8M100.3 1646.38H95.8M100.3 1675.72H95.8M100.3 1690.39H95.8M100.3 1705.06H95.8M100.3 1719.73H95.8M100.3 1749.07H95.8M100.3 1763.74H95.8M100.3 1778.41H95.8M100.3 1793.08H95.8M100.3 1822.42H95.8M100.3 1837.09H95.8M100.3 1851.76H95.8M100.3 1866.43H95.8" stroke="#000" stroke-width="5.9" fill="none"/>
<path d="M100.3 1441H92.7M100.3 1514.35H92.7M100.3 1587.7H92.7M100.3 1661.05H92.7M100.3 1734.4H92.7M100.3 1807.75H92.7M100.3 1881.1H92.7" stroke="#000" stroke-width="5.9" fill="none"/>
<path d="M209.76 1881V1888.7M356.28 1881V1888.7M502.8 1881V1888.7M649.32 1881V1888.7" stroke="#000" stroke-width="6.6" fill="none"/>
<text transform="translate(89.9 1449.95) scale(1 1.085)" font-size="26.2" font-weight="bold" text-anchor="end">-50</text>
<text transform="translate(89.9 1525.4) scale(1 1.085)" font-size="26.2" font-weight="bold" text-anchor="end">-25</text>
<text transform="translate(89.9 1596.75) scale(1 1.085)" font-size="26.2" font-weight="bold" text-anchor="end">0</text>
<text transform="translate(89.9 1670.3) scale(1 1.085)" font-size="26.2" font-weight="bold" text-anchor="end">25</text>
<text transform="translate(89.9 1744.15) scale(1 1.085)" font-size="26.2" font-weight="bold" text-anchor="end">50</text>
<text transform="translate(89.9 1817.5) scale(1 1.085)" font-size="26.2" font-weight="bold" text-anchor="end">75</text>
<text transform="translate(89.9 1889.95) scale(1 1.085)" font-size="26.2" font-weight="bold" text-anchor="end">100</text>
<text transform="translate(210.26 1917) scale(1 1.085)" font-size="26.2" font-weight="bold" text-anchor="middle">9</text>
<text transform="translate(356.78 1917) scale(1 1.085)" font-size="26.2" font-weight="bold" text-anchor="middle">8</text>
<text transform="translate(503.3 1917) scale(1 1.085)" font-size="26.2" font-weight="bold" text-anchor="middle">7</text>
<text transform="translate(649.82 1917) scale(1 1.085)" font-size="26.2" font-weight="bold" text-anchor="middle">6</text>
<text transform="translate(427 1956) scale(1 1.05)" font-size="26" font-weight="bold" text-anchor="middle" textLength="268.6" lengthAdjust="spacingAndGlyphs">Acetylcholine (-log M)</text>
<text transform="translate(52.9 1656.6) rotate(-90) scale(1 1.05)" font-size="26" font-weight="bold" text-anchor="middle" textLength="176.3" lengthAdjust="spacingAndGlyphs">Relaxation[%]</text>
<path d="M107 1587.85H752.2" stroke="#000" stroke-width="2.7" stroke-dasharray="0.01 7.49" stroke-linecap="round" fill="none"/>
<path d="M209.76 1575.5V1582.5M283.02 1567.5V1573.5M356.28 1554.3V1566.3M429.54 1545V1562.2M502.8 1536V1555M576.06 1526V1549M649.32 1517V1543.5M722.58 1482.5V1522.5" fill="none" stroke="#1ECD8C" stroke-width="5.2"/>
<path d="M204.31 1575.5H215.21M204.31 1582.5H215.21M277.57 1567.5H288.47M277.57 1573.5H288.47M350.83 1554.3H361.73M350.83 1566.3H361.73M424.09 1545H434.99M424.09 1562.2H434.99M497.35 1536H508.25M497.35 1555H508.25M570.61 1526H581.51M570.61 1549H581.51M643.87 1517H654.77M643.87 1543.5H654.77M717.13 1482.5H728.03M717.13 1522.5H728.03" fill="none" stroke="#1ECD8C" stroke-width="4.7" stroke-linecap="butt"/>
<polyline points="136.5,1587.7 209.76,1579 283.02,1570.5 356.28,1560.3 429.54,1553.5 502.8,1545.6 576.06,1537.5 649.32,1530 722.58,1502.6" fill="none" stroke="#1ECD8C" stroke-width="2.1" stroke-linejoin="round" stroke-linecap="round"/>
<circle cx="136.5" cy="1587.7" r="3" fill="#1ECD8C"/>
<circle cx="209.76" cy="1579" r="3" fill="#1ECD8C"/>
<circle cx="283.02" cy="1570.5" r="3" fill="#1ECD8C"/>
<circle cx="356.28" cy="1560.3" r="3" fill="#1ECD8C"/>
<circle cx="429.54" cy="1553.5" r="3" fill="#1ECD8C"/>
<circle cx="502.8" cy="1545.6" r="3" fill="#1ECD8C"/>
<circle cx="576.06" cy="1537.5" r="3" fill="#1ECD8C"/>
<circle cx="649.32" cy="1530" r="3" fill="#1ECD8C"/>
<circle cx="722.58" cy="1502.6" r="3" fill="#1ECD8C"/>
<path d="M209.76 1568V1578.8M283.02 1555.3V1574.7M356.28 1539.7V1565.7M429.54 1524.4V1550.6M502.8 1516V1547M576.06 1510.7V1551.3M649.32 1492.4V1537.5M722.58 1478.6V1527" fill="none" stroke="#055F0A" stroke-width="5.2"/>
<path d="M204.31 1568H215.21M204.31 1578.8H215.21M277.57 1555.3H288.47M277.57 1574.7H288.47M350.83 1539.7H361.73M350.83 1565.7H361.73M424.09 1524.4H434.99M424.09 1550.6H434.99M497.35 1516H508.25M497.35 1547H508.25M570.61 1510.7H581.51M570.61 1551.3H581.51M643.87 1492.4H654.77M643.87 1537.5H654.77M717.13 1478.6H728.03M717.13 1527H728.03" fill="none" stroke="#055F0A" stroke-width="4.7" stroke-linecap="butt"/>
<polyline points="136.5,1587.7 209.76,1573.4 283.02,1565 356.28,1552.7 429.54,1537.5 502.8,1531.6 576.06,1531 649.32,1514.6 722.58,1503" fill="none" stroke="#055F0A" stroke-width="4.3" stroke-linejoin="round" stroke-linecap="round"/>
<rect x="133" y="1584.2" width="7" height="7" fill="#055F0A"/>
<rect x="206.26" y="1569.9" width="7" height="7" fill="#055F0A"/>
<rect x="279.52" y="1561.5" width="7" height="7" fill="#055F0A"/>
<rect x="352.78" y="1549.2" width="7" height="7" fill="#055F0A"/>
<rect x="426.04" y="1534" width="7" height="7" fill="#055F0A"/>
<rect x="499.3" y="1528.1" width="7" height="7" fill="#055F0A"/>
<rect x="572.56" y="1527.5" width="7" height="7" fill="#055F0A"/>
<rect x="645.82" y="1511.1" width="7" height="7" fill="#055F0A"/>
<rect x="719.08" y="1499.5" width="7" height="7" fill="#055F0A"/>
<path d="M209.76 1574.4V1582.6M283.02 1560.2V1579.2M356.28 1546.5V1570.7M429.54 1538.6V1567M502.8 1535V1563M576.06 1522.5V1555.5M649.32 1515.7V1551.4M722.58 1477.5V1511.5" fill="none" stroke="#F0B77D" stroke-width="5.2"/>
<path d="M204.31 1574.4H215.21M204.31 1582.6H215.21M277.57 1560.2H288.47M277.57 1579.2H288.47M350.83 1546.5H361.73M350.83 1570.7H361.73M424.09 1538.6H434.99M424.09 1567H434.99M497.35 1535H508.25M497.35 1563H508.25M570.61 1522.5H581.51M570.61 1555.5H581.51M643.87 1515.7H654.77M643.87 1551.4H654.77M717.13 1477.5H728.03M717.13 1511.5H728.03" fill="none" stroke="#F0B77D" stroke-width="4.7" stroke-linecap="butt"/>
<polyline points="136.5,1587.7 209.76,1578.5 283.02,1569.7 356.28,1558.6 429.54,1552.8 502.8,1549 576.06,1539 649.32,1533.2 722.58,1496.7" fill="none" stroke="#F0B77D" stroke-width="4" stroke-linejoin="round" stroke-linecap="round"/>
<path d="M136.5 1581.92L141.75 1592.42L131.25 1592.42Z" fill="#F0B77D"/>
<path d="M209.76 1572.72L215.01 1583.22L204.51 1583.22Z" fill="#F0B77D"/>
<path d="M283.02 1563.92L288.27 1574.42L277.77 1574.42Z" fill="#F0B77D"/>
<path d="M356.28 1552.82L361.53 1563.32L351.03 1563.32Z" fill="#F0B77D"/>
<path d="M429.54 1547.02L434.79 1557.52L424.29 1557.52Z" fill="#F0B77D"/>
<path d="M502.8 1543.22L508.05 1553.72L497.55 1553.72Z" fill="#F0B77D"/>
<path d="M576.06 1533.22L581.31 1543.72L570.81 1543.72Z" fill="#F0B77D"/>
<path d="M649.32 1527.42L654.57 1537.92L644.07 1537.92Z" fill="#F0B77D"/>
<path d="M722.58 1490.92L727.83 1501.42L717.33 1501.42Z" fill="#F0B77D"/>
<path d="M209.76 1572.2V1575.6M283.02 1556.7V1567.3M356.28 1542.3V1556.3M429.54 1530V1547.4M502.8 1524.4V1542.6M576.06 1512.4V1534.3M649.32 1500.4V1525.6M722.58 1480.4V1507.5" fill="none" stroke="#FF660A" stroke-width="5.2"/>
<path d="M204.31 1572.2H215.21M204.31 1575.6H215.21M277.57 1556.7H288.47M277.57 1567.3H288.47M350.83 1542.3H361.73M350.83 1556.3H361.73M424.09 1530H434.99M424.09 1547.4H434.99M497.35 1524.4H508.25M497.35 1542.6H508.25M570.61 1512.4H581.51M570.61 1534.3H581.51M643.87 1500.4H654.77M643.87 1525.6H654.77M717.13 1480.4H728.03M717.13 1507.5H728.03" fill="none" stroke="#FF660A" stroke-width="4.7" stroke-linecap="butt"/>
<polyline points="136.5,1587.7 209.76,1573.9 283.02,1562 356.28,1549.3 429.54,1538.6 502.8,1532.7 576.06,1523.3 649.32,1511.9 722.58,1493" fill="none" stroke="#FF660A" stroke-width="4.6" stroke-linejoin="round" stroke-linecap="round"/>
<path d="M136.5 1593.48L141.75 1582.98L131.25 1582.98Z" fill="#FF660A"/>
<path d="M209.76 1579.68L215.01 1569.18L204.51 1569.18Z" fill="#FF660A"/>
<path d="M283.02 1567.78L288.27 1557.28L277.77 1557.28Z" fill="#FF660A"/>
<path d="M356.28 1555.08L361.53 1544.58L351.03 1544.58Z" fill="#FF660A"/>
<path d="M429.54 1544.38L434.79 1533.88L424.29 1533.88Z" fill="#FF660A"/>
<path d="M502.8 1538.48L508.05 1527.98L497.55 1527.98Z" fill="#FF660A"/>
<path d="M576.06 1529.08L581.31 1518.58L570.81 1518.58Z" fill="#FF660A"/>
<path d="M649.32 1517.68L654.57 1507.18L644.07 1507.18Z" fill="#FF660A"/>
<path d="M722.58 1498.78L727.83 1488.28L717.33 1488.28Z" fill="#FF660A"/>
<path d="M122.8 1854H150.1" stroke="#F0B77D" stroke-width="4.2"/>
<path d="M136.4 1847.95L141.9 1858.95L130.9 1858.95Z" fill="#F0B77D"/>
<text transform="translate(163.3 1863.9) scale(1 1.05)" font-size="28" font-weight="normal" text-anchor="start">SCD</text>
<path d="M232.9 1854H260.2" stroke="#FF660A" stroke-width="4.2"/>
<path d="M246.5 1860.05L252 1849.05L241 1849.05Z" fill="#FF660A"/>
<text transform="translate(271.1 1863.9) scale(1 1.05)" font-size="28" font-weight="normal" text-anchor="start">CAF</text>
<path d="M339.6 1854H366.9" stroke="#1ECD8C" stroke-width="4.2"/>
<circle cx="353.2" cy="1854" r="5.25" fill="#1ECD8C"/>
<text transform="translate(375.3 1863.9) scale(1 1.05)" font-size="28" font-weight="normal" text-anchor="start">LFD</text>
<path d="M442.2 1854H469.5" stroke="#055F0A" stroke-width="4.2"/>
<rect x="450.55" y="1848.75" width="10.5" height="10.5" fill="#055F0A"/>
<text transform="translate(480.3 1863.9) scale(1 1.05)" font-size="28" font-weight="normal" text-anchor="start">HFD</text>
</g>
</svg>
</body></html>
